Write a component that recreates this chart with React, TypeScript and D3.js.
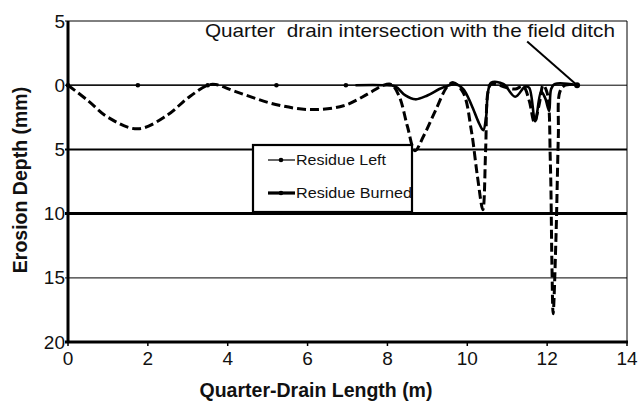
import React from "react";
import * as d3 from "d3";

// ---- data ----
const xTicks = [0, 2, 4, 6, 8, 10, 12, 14];
const yTickValues = [-5, 0, 5, 10, 15, 20];
const yTickLabels = ["5", "0", "5", "10", "15", "20"];

// Residue Left: flat line with markers
const leftX = [0, 1.75, 3.5, 5.22, 6.96, 8.7, 10.44, 12.18, 12.75];
const leftY = [0, 0, 0, 0, 0, 0, 0, 0, 0];
const leftMarkers = [0, 1.75, 3.5, 5.22, 6.96, 12.75];

// Residue Burned (solid thick part)
const burnedX = [7.2, 7.9, 8.2, 8.45, 8.7, 9.0, 9.3, 9.55, 9.7, 9.9, 10.1, 10.3, 10.4, 10.47, 10.52, 10.6, 10.9, 11.2, 11.45, 11.55, 11.7, 11.85, 11.95, 12.05, 12.1, 12.2, 12.75];
const burnedY = [0, 0, 0.1, 0.8, 1.1, 0.8, 0.3, 0, -0.1, 0.3, 1.5, 3.0, 3.5, 2.5, 0.5, -0.2, -0.1, 0.9, 0.1, 0.2, 2.8, 0.5, 1.0, 2.0, 0.3, -0.1, 0];

// dashed thick profile
const dashX = [0, 0.5, 1.0, 1.75, 2.5, 3.0, 3.5, 3.7, 4.2, 5.2, 6.1, 6.9, 7.5, 7.9, 8.1, 8.3, 8.5, 8.69, 8.9, 9.2, 9.5, 9.65, 9.9, 10.1, 10.25, 10.39, 10.46, 10.52, 10.6, 10.8, 11.0, 11.2, 11.4, 11.55, 11.68, 11.8, 11.9, 12.0, 12.08, 12.12, 12.15, 12.22, 12.28, 12.32, 12.45, 12.75];
const dashY = [0, 1.2, 2.5, 3.4, 2.3, 1.0, 0, -0.05, 0.5, 1.5, 1.9, 1.6, 0.7, 0, -0.05, 0.9, 3.2, 5.1, 4.0, 2.0, 0.1, -0.2, 0.6, 3.5, 7.0, 9.7, 5.0, 0.5, -0.1, 0, 0.2, 0.3, 0.1, 1.2, 2.9, 1.5, 0, 0.6, 6.0, 14.0, 17.8, 12.0, 4.0, 0.5, 0, 0];

const legendLabels = ["Residue Left", "Residue Burned"];
const annotText = "Quarter  drain intersection with the field ditch";
const annotTextPos = [3.43, -3.75];
const annotFrom = [11.5, -3.4];
const annotTo = [12.75, 0];

const W = 644;
const H = 402;

export default function App() {
  const x = d3.scaleLinear().domain([0, 14]).range([68, 627]);
  const y = d3.scaleLinear().domain([-5, 20]).range([21, 342]);

  const lineGen = d3
    .line<[number, number]>()
    .x((d) => x(d[0]))
    .y((d) => y(d[1]))
    .curve(d3.curveCatmullRom.alpha(0.5));

  const leftPath = d3
    .line<[number, number]>()
    .x((d) => x(d[0]))
    .y((d) => y(d[1]))(leftX.map((v, i) => [v, leftY[i]]));
  const burnedPath = lineGen(burnedX.map((v, i) => [v, burnedY[i]]));
  const dashPath = lineGen(dashX.map((v, i) => [v, dashY[i]]));

  const gridWidths: Record<number, number> = { [-5]: 1, 0: 1, 5: 2, 10: 3, 15: 1.2 };
  const font = "'Liberation Sans', Arial, sans-serif";

  const lgX = 253, lgY = 145, lgW = 159, lgH = 67;

  return (
    <svg
      width={W}
      height={H}
      style={{ position: "absolute", left: 0, top: 0, background: "#fff" }}
      fontFamily={font}
    >
      <rect x={0} y={0} width={W} height={H} fill="#fff" />
      {[-5, 0, 5, 10, 15].map((v) => (
        <line
          key={"g" + v}
          x1={x(0) - 3}
          x2={x(14)}
          y1={y(v)}
          y2={y(v)}
          stroke={v === 15 ? "#333" : "#000"}
          strokeWidth={gridWidths[v]}
        />
      ))}
      <line x1={x(14)} x2={x(14)} y1={y(-5)} y2={y(20)} stroke="#000" strokeWidth={1} />
      <line x1={x(0) - 3} x2={x(14) + 1} y1={y(20)} y2={y(20)} stroke="#000" strokeWidth={3} />
      {xTicks.map((t) => (
        <g key={"xt" + t}>
          <line x1={x(t)} x2={x(t)} y1={y(20)} y2={y(20) + 4} stroke="#000" strokeWidth={1.5} />
          <text x={x(t)} y={365} textAnchor="middle" fontSize={19} fill="#111">
            {t}
          </text>
        </g>
      ))}
      <line x1={x(0)} x2={x(0)} y1={y(-5)} y2={y(20)} stroke="#000" strokeWidth={3} />
      {yTickValues.map((v, i) => (
        <text key={"yt" + v} x={65} y={y(v) + 6.5} textAnchor="end" fontSize={19} fill="#111">
          {yTickLabels[i]}
        </text>
      ))}

      <path d={leftPath || ""} fill="none" stroke="#000" strokeWidth={1.2} />
      {leftMarkers.map((m, i) => (
        <circle key={"m" + i} cx={x(m)} cy={y(0)} r={2.3} fill="#000" />
      ))}
      <path d={burnedPath || ""} fill="none" stroke="#000" strokeWidth={2.6} strokeLinejoin="round" />
      <path
        d={dashPath || ""}
        fill="none"
        stroke="#000"
        strokeWidth={3}
        strokeDasharray="9,4"
        strokeLinejoin="round"
      />

      <rect x={lgX} y={lgY} width={lgW} height={lgH} fill="#fff" stroke="#000" strokeWidth={2.2} />
      <line x1={268} x2={295} y1={160} y2={160} stroke="#000" strokeWidth={1.2} />
      <circle cx={281} cy={160} r={2.3} fill="#000" />
      <text x={296} y={165} fontSize={15} fill="#111" textLength={90} lengthAdjust="spacingAndGlyphs">
        {legendLabels[0]}
      </text>
      <line x1={268} x2={295} y1={193} y2={193} stroke="#000" strokeWidth={3.2} />
      <circle cx={281} cy={193} r={2.3} fill="#000" />
      <text x={296} y={198} fontSize={15} fill="#111" textLength={116} lengthAdjust="spacingAndGlyphs">
        {legendLabels[1]}
      </text>

      <text
        x={x(annotTextPos[0])}
        y={y(annotTextPos[1])}
        fontSize={19}
        fill="#111"
        xmlSpace="preserve"
        style={{ whiteSpace: "pre" }}
        textLength={410}
        lengthAdjust="spacingAndGlyphs"
      >
        {annotText}
      </text>
      <line
        x1={x(annotFrom[0])}
        y1={y(annotFrom[1])}
        x2={x(annotTo[0])}
        y2={y(annotTo[1])}
        stroke="#000"
        strokeWidth={2}
      />
      <circle cx={x(annotTo[0])} cy={y(annotTo[1])} r={3} fill="#000" />

      <text x={316} y={397} textAnchor="middle" fontSize={19.5} fontWeight="bold" fill="#111">
        Quarter-Drain Length (m)
      </text>
      <text
        transform={`translate(27,180) rotate(-90)`}
        textAnchor="middle"
        fontSize={19.5}
        fontWeight="bold"
        fill="#111"
      >
        Erosion Depth (mm)
      </text>
    </svg>
  );
}
